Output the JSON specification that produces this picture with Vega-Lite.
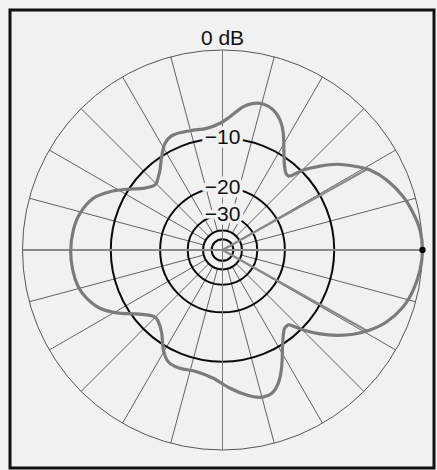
{
  "$schema": "https://vega.github.io/schema/vega-lite/v6.json",
  "width": 424,
  "height": 458,
  "autosize": "none",
  "padding": {"left": 10, "top": 10, "right": 3, "bottom": 2},
  "background": "#f1f1f1",
  "view": {"stroke": "#111111", "strokeWidth": 3},
  "datasets": {
    "pattern": [
      {"i": 0, "angle": 0, "dB": 0},
      {"i": 1, "angle": 5.8, "dB": -0.13},
      {"i": 2, "angle": 10.9, "dB": -0.5},
      {"i": 3, "angle": 16.4, "dB": -1.02},
      {"i": 4, "angle": 23.1, "dB": -1.95},
      {"i": 5, "angle": 28.5, "dB": -3.01},
      {"i": 6, "angle": 32.7, "dB": -4.33},
      {"i": 7, "angle": 36.9, "dB": -5.78},
      {"i": 8, "angle": 40.7, "dB": -7.57},
      {"i": 9, "angle": 44.7, "dB": -9.69},
      {"i": 10, "angle": 47.6, "dB": -11.86},
      {"i": 11, "angle": 50.4, "dB": -11.97},
      {"i": 12, "angle": 53.9, "dB": -11.03},
      {"i": 13, "angle": 56.6, "dB": -9.99},
      {"i": 14, "angle": 62.5, "dB": -7.18},
      {"i": 15, "angle": 66.1, "dB": -5.86},
      {"i": 16, "angle": 70.1, "dB": -5.06},
      {"i": 17, "angle": 74.4, "dB": -4.76},
      {"i": 18, "angle": 78.1, "dB": -4.95},
      {"i": 19, "angle": 81.7, "dB": -5.54},
      {"i": 20, "angle": 86.8, "dB": -6.94},
      {"i": 21, "angle": 91.1, "dB": -7.83},
      {"i": 22, "angle": 97.4, "dB": -8.39},
      {"i": 23, "angle": 105.2, "dB": -8.26},
      {"i": 24, "angle": 113.2, "dB": -8.05},
      {"i": 25, "angle": 118.3, "dB": -8.6},
      {"i": 26, "angle": 123.1, "dB": -10.04},
      {"i": 27, "angle": 128.0, "dB": -11.64},
      {"i": 28, "angle": 131.2, "dB": -12.35},
      {"i": 29, "angle": 136.1, "dB": -13.01},
      {"i": 30, "angle": 142.1, "dB": -11.83},
      {"i": 31, "angle": 147.6, "dB": -9.74},
      {"i": 32, "angle": 152.6, "dB": -7.83},
      {"i": 33, "angle": 158.2, "dB": -6.22},
      {"i": 34, "angle": 165.6, "dB": -5.27},
      {"i": 35, "angle": 172.4, "dB": -4.88},
      {"i": 36, "angle": 180.4, "dB": -4.73},
      {"i": 37, "angle": 187.6, "dB": -4.81},
      {"i": 38, "angle": 194.3, "dB": -5.07},
      {"i": 39, "angle": 199.6, "dB": -5.63},
      {"i": 40, "angle": 205.4, "dB": -6.66},
      {"i": 41, "angle": 210.7, "dB": -8.34},
      {"i": 42, "angle": 216.7, "dB": -10.73},
      {"i": 43, "angle": 223.8, "dB": -12.63},
      {"i": 44, "angle": 228.2, "dB": -12.56},
      {"i": 45, "angle": 233.9, "dB": -11.37},
      {"i": 46, "angle": 239.4, "dB": -9.32},
      {"i": 47, "angle": 244.1, "dB": -8.18},
      {"i": 48, "angle": 250.2, "dB": -7.97},
      {"i": 49, "angle": 258.0, "dB": -8.15},
      {"i": 50, "angle": 265.9, "dB": -7.58},
      {"i": 51, "angle": 273.1, "dB": -6.31},
      {"i": 52, "angle": 279.5, "dB": -5.28},
      {"i": 53, "angle": 284.3, "dB": -4.71},
      {"i": 54, "angle": 289.0, "dB": -4.77},
      {"i": 55, "angle": 292.7, "dB": -5.58},
      {"i": 56, "angle": 296.9, "dB": -7.28},
      {"i": 57, "angle": 302.8, "dB": -10.1},
      {"i": 58, "angle": 307.6, "dB": -11.74},
      {"i": 59, "angle": 310.2, "dB": -11.98},
      {"i": 60, "angle": 312.0, "dB": -11.74},
      {"i": 61, "angle": 315.3, "dB": -9.69},
      {"i": 62, "angle": 319.3, "dB": -7.57},
      {"i": 63, "angle": 323.2, "dB": -5.82},
      {"i": 64, "angle": 327.2, "dB": -4.31},
      {"i": 65, "angle": 331.5, "dB": -3.01},
      {"i": 66, "angle": 336.4, "dB": -1.88},
      {"i": 67, "angle": 342.6, "dB": -0.93},
      {"i": 68, "angle": 348.2, "dB": -0.44},
      {"i": 69, "angle": 354.2, "dB": -0.13}
    ],
    "segments": [
      {"kind": "spoke", "a1": 15, "d1": -40, "a2": 15, "d2": 0},
      {"kind": "spoke", "a1": 30, "d1": -40, "a2": 30, "d2": 0},
      {"kind": "spoke", "a1": 45, "d1": -40, "a2": 45, "d2": 0},
      {"kind": "spoke", "a1": 60, "d1": -40, "a2": 60, "d2": 0},
      {"kind": "spoke", "a1": 75, "d1": -40, "a2": 75, "d2": 0},
      {"kind": "spoke", "a1": 105, "d1": -40, "a2": 105, "d2": 0},
      {"kind": "spoke", "a1": 120, "d1": -40, "a2": 120, "d2": 0},
      {"kind": "spoke", "a1": 135, "d1": -40, "a2": 135, "d2": 0},
      {"kind": "spoke", "a1": 150, "d1": -40, "a2": 150, "d2": 0},
      {"kind": "spoke", "a1": 165, "d1": -40, "a2": 165, "d2": 0},
      {"kind": "spoke", "a1": 195, "d1": -40, "a2": 195, "d2": 0},
      {"kind": "spoke", "a1": 210, "d1": -40, "a2": 210, "d2": 0},
      {"kind": "spoke", "a1": 225, "d1": -40, "a2": 225, "d2": 0},
      {"kind": "spoke", "a1": 240, "d1": -40, "a2": 240, "d2": 0},
      {"kind": "spoke", "a1": 255, "d1": -40, "a2": 255, "d2": 0},
      {"kind": "spoke", "a1": 285, "d1": -40, "a2": 285, "d2": 0},
      {"kind": "spoke", "a1": 300, "d1": -40, "a2": 300, "d2": 0},
      {"kind": "spoke", "a1": 315, "d1": -40, "a2": 315, "d2": 0},
      {"kind": "spoke", "a1": 330, "d1": -40, "a2": 330, "d2": 0},
      {"kind": "spoke", "a1": 345, "d1": -40, "a2": 345, "d2": 0},
      {"kind": "vaxis", "a1": 90, "d1": 0, "a2": 270, "d2": 0},
      {"kind": "haxis", "a1": 180, "d1": 0, "a2": 0, "d2": 0},
      {"kind": "beam", "a1": 29.2, "d1": -200, "a2": 29.2, "d2": -3.1},
      {"kind": "beam", "a1": -29.2, "d1": -200, "a2": -29.2, "d2": -3.1}
    ],
    "rings": [
      {"dB": 0}, {"dB": -10}, {"dB": -20}, {"dB": -30}, {"dB": -40}, {"dB": -50}
    ],
    "ringLabels": [
      {"label": "−10", "dB": -10},
      {"label": "−20", "dB": -20},
      {"label": "−30", "dB": -30}
    ]
  },
  "encoding": {
    "x": {"field": "px", "type": "quantitative", "scale": {"domain": [-1.0625, 1.0575], "nice": false, "zero": false}, "axis": null},
    "y": {"field": "py", "type": "quantitative", "scale": {"domain": [-1.09, 1.2], "nice": false, "zero": false}, "axis": null}
  },
  "layer": [
    {
      "data": {"name": "segments"},
      "transform": [
        {"filter": "datum.kind == 'spoke'"},
        {"calculate": "pow(0.89, -datum.d1/2)*cos(datum.a1*PI/180)", "as": "px"},
        {"calculate": "pow(0.89, -datum.d1/2)*sin(datum.a1*PI/180)", "as": "py"},
        {"calculate": "pow(0.89, -datum.d2/2)*cos(datum.a2*PI/180)", "as": "px2"},
        {"calculate": "pow(0.89, -datum.d2/2)*sin(datum.a2*PI/180)", "as": "py2"}
      ],
      "mark": {"type": "rule", "color": "#3c3c3c", "strokeWidth": 0.8},
      "encoding": {"x2": {"field": "px2"}, "y2": {"field": "py2"}}
    },
    {
      "data": {"name": "rings"},
      "transform": [
        {"filter": "datum.dB == 0"},
        {"calculate": "pow(0.89, -datum.dB/2)", "as": "rr"},
        {"calculate": "0", "as": "px"},
        {"calculate": "0", "as": "py"}
      ],
      "mark": {"type": "arc", "filled": false, "stroke": "#555555", "strokeWidth": 1, "theta": 0, "theta2": 6.2832},
      "encoding": {
        "radius": {"field": "rr", "type": "quantitative", "stack": null, "scale": {"type": "linear", "domain": [0, 1], "range": [0, 200], "zero": true}, "legend": null}
      }
    },
    {
      "data": {"name": "rings"},
      "transform": [
        {"filter": "datum.dB < 0"},
        {"calculate": "pow(0.89, -datum.dB/2)", "as": "rr"},
        {"calculate": "0", "as": "px"},
        {"calculate": "0", "as": "py"}
      ],
      "mark": {"type": "arc", "filled": false, "stroke": "#0a0a0a", "strokeWidth": 2, "theta": 0, "theta2": 6.2832},
      "encoding": {
        "radius": {"field": "rr", "type": "quantitative", "stack": null, "scale": {"type": "linear", "domain": [0, 1], "range": [0, 200], "zero": true}, "legend": null}
      }
    },
    {
      "data": {"name": "segments"},
      "transform": [
        {"filter": "datum.kind == 'vaxis'"},
        {"calculate": "pow(0.89, -datum.d1/2)*cos(datum.a1*PI/180)", "as": "px"},
        {"calculate": "pow(0.89, -datum.d1/2)*sin(datum.a1*PI/180)", "as": "py"},
        {"calculate": "pow(0.89, -datum.d2/2)*cos(datum.a2*PI/180)", "as": "px2"},
        {"calculate": "pow(0.89, -datum.d2/2)*sin(datum.a2*PI/180)", "as": "py2"}
      ],
      "mark": {"type": "rule", "color": "#7a7a7a", "strokeWidth": 1},
      "encoding": {"x2": {"field": "px2"}, "y2": {"field": "py2"}}
    },
    {
      "data": {"name": "segments"},
      "transform": [
        {"filter": "datum.kind == 'haxis' || datum.kind == 'beam'"},
        {"calculate": "pow(0.89, -datum.d1/2)*cos(datum.a1*PI/180)", "as": "px"},
        {"calculate": "pow(0.89, -datum.d1/2)*sin(datum.a1*PI/180)", "as": "py"},
        {"calculate": "pow(0.89, -datum.d2/2)*cos(datum.a2*PI/180)", "as": "px2"},
        {"calculate": "pow(0.89, -datum.d2/2)*sin(datum.a2*PI/180)", "as": "py2"}
      ],
      "mark": {"type": "rule", "color": "#8a8a8a", "strokeWidth": 2.2},
      "encoding": {"x2": {"field": "px2"}, "y2": {"field": "py2"}}
    },
    {
      "data": {"name": "pattern"},
      "transform": [
        {"calculate": "pow(0.89, -datum.dB/2)*cos(datum.angle*PI/180)", "as": "px"},
        {"calculate": "pow(0.89, -datum.dB/2)*sin(datum.angle*PI/180)", "as": "py"}
      ],
      "mark": {"type": "line", "color": "#7b7b7b", "strokeWidth": 3.2, "interpolate": "cardinal-closed"},
      "encoding": {"order": {"field": "i", "type": "quantitative"}}
    },
    {
      "data": {"values": [{"angle": 0, "dB": 0}]},
      "transform": [
        {"calculate": "pow(0.89, -datum.dB/2)*cos(datum.angle*PI/180)", "as": "px"},
        {"calculate": "pow(0.89, -datum.dB/2)*sin(datum.angle*PI/180)", "as": "py"}
      ],
      "mark": {"type": "point", "filled": true, "color": "#000000", "size": 40, "opacity": 1}
    },
    {
      "data": {"name": "ringLabels"},
      "transform": [
        {"calculate": "0", "as": "px"},
        {"calculate": "pow(0.89, -datum.dB/2)", "as": "py"}
      ],
      "mark": {"type": "text", "font": "Liberation Sans", "fontSize": 21, "baseline": "middle", "align": "center", "color": "#f1f1f1", "stroke": "#f1f1f1", "strokeWidth": 7},
      "encoding": {"text": {"field": "label"}}
    },
    {
      "data": {"name": "ringLabels"},
      "transform": [
        {"calculate": "0", "as": "px"},
        {"calculate": "pow(0.89, -datum.dB/2)", "as": "py"}
      ],
      "mark": {"type": "text", "font": "Liberation Sans", "fontSize": 21, "baseline": "middle", "align": "center", "color": "#111111"},
      "encoding": {"text": {"field": "label"}}
    },
    {
      "data": {"values": [{"label": "0 dB", "dB": 0}]},
      "transform": [
        {"calculate": "0", "as": "px"},
        {"calculate": "pow(0.89, -datum.dB/2)", "as": "py"}
      ],
      "mark": {"type": "text", "font": "Liberation Sans", "fontSize": 21, "baseline": "alphabetic", "align": "center", "dy": -5, "color": "#111111"},
      "encoding": {"text": {"field": "label"}}
    },
    {
      "data": {"values": [{"label": "446 MHz"}]},
      "mark": {"type": "text", "font": "Liberation Sans", "fontSize": 14, "baseline": "alphabetic", "align": "right", "color": "#111111"},
      "encoding": {
        "x": {"datum": 1.0275, "type": "quantitative"},
        "y": {"datum": -0.825, "type": "quantitative"},
        "text": {"field": "label"}
      }
    },
    {
      "data": {"values": [{"label": "QS0710-Hart03"}]},
      "mark": {"type": "text", "font": "Liberation Sans", "fontSize": 10, "baseline": "alphabetic", "align": "left", "color": "#111111"},
      "encoding": {
        "x": {"datum": -0.9725, "type": "quantitative"},
        "y": {"datum": -0.915, "type": "quantitative"},
        "text": {"field": "label"}
      }
    }
  ]
}
